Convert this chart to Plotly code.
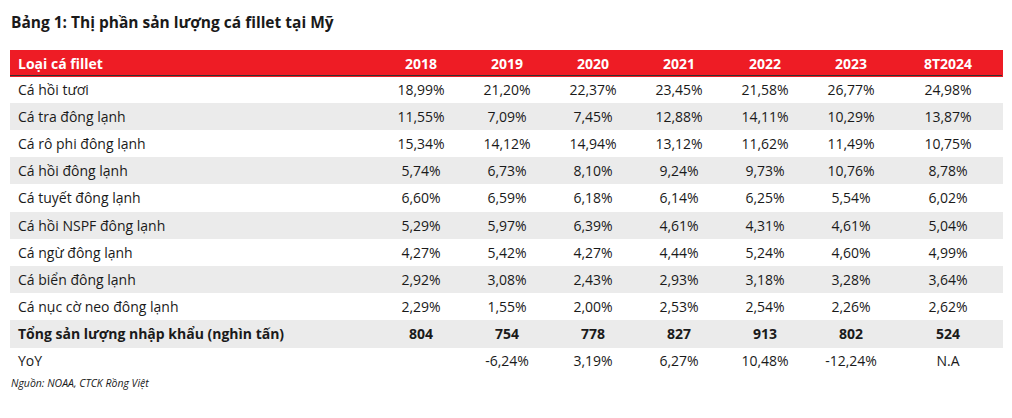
import plotly.graph_objects as go

columns = ["Loại cá fillet", "2018", "2019", "2020", "2021", "2022", "2023", "8T2024"]
categories = ["Cá hồi tươi", "Cá tra đông lạnh", "Cá rô phi đông lạnh", "Cá hồi đông lạnh",
              "Cá tuyết đông lạnh", "Cá hồi NSPF đông lạnh", "Cá ngừ đông lạnh",
              "Cá biển đông lạnh", "Cá nục cờ neo đông lạnh"]
y2018 = ["18,99%", "11,55%", "15,34%", "5,74%", "6,60%", "5,29%", "4,27%", "2,92%", "2,29%"]
y2019 = ["21,20%", "7,09%", "14,12%", "6,73%", "6,59%", "5,97%", "5,42%", "3,08%", "1,55%"]
y2020 = ["22,37%", "7,45%", "14,94%", "8,10%", "6,18%", "6,39%", "4,27%", "2,43%", "2,00%"]
y2021 = ["23,45%", "12,88%", "13,12%", "9,24%", "6,14%", "4,61%", "4,44%", "2,93%", "2,53%"]
y2022 = ["21,58%", "14,11%", "11,62%", "9,73%", "6,25%", "4,31%", "5,24%", "3,18%", "2,54%"]
y2023 = ["26,77%", "10,29%", "11,49%", "10,76%", "5,54%", "4,61%", "4,60%", "3,28%", "2,26%"]
y8t2024 = ["24,98%", "13,87%", "10,75%", "8,78%", "6,02%", "5,04%", "4,99%", "3,64%", "2,62%"]
total_label = "Tổng sản lượng nhập khẩu (nghìn tấn)"
totals = ["804", "754", "778", "827", "913", "802", "524"]
yoy_label = "YoY"
yoy = ["", "-6,24%", "3,19%", "6,27%", "10,48%", "-12,24%", "N.A"]

title = "Bảng 1: Thị phần sản lượng cá fillet tại Mỹ"
source = "Nguồn: NOAA, CTCK Rồng Việt"

year_cols = [y2018, y2019, y2020, y2021, y2022, y2023, y8t2024]
cols = [categories] + year_cols

n = len(categories)
GRAY = "#ebebeb"
fills = [GRAY if r % 2 == 1 else "white" for r in range(n)]

# the page body has an 8px margin, so figure coordinates are offset by 8px
W, H = 1012, 418
FONT = "Open Sans"
RED = "#ee1c25"
TXT = "#1a1a1a"
FS = 14
dom_x0, dom_x1 = 2, 994
head_top = 42
head_h = 26
row_h = 27.2
colw = [368, 86, 86, 86, 86, 86, 86, 108]
aligns = ["left"] + ["center"] * 7
main_end = head_top + head_h + row_h * n
tot_h, yoy_h = 27, 26

main = go.Table(
    columnwidth=colw,
    header=dict(values=columns, fill_color=RED, line=dict(color=RED, width=1),
                font=dict(family=FONT, size=FS, color="white", weight="bold"),
                align=aligns, height=head_h),
    cells=dict(values=cols, fill_color=[fills] * 8, line=dict(color=[fills] * 8, width=1),
               font=dict(family=FONT, size=FS, color=TXT),
               align=aligns, height=row_h),
    domain=dict(x=[dom_x0 / W, dom_x1 / W],
                y=[1 - (main_end + 12) / H, 1 - head_top / H]),
)

bottom = go.Table(
    columnwidth=colw,
    header=dict(values=[total_label] + totals, fill_color=GRAY, line=dict(color=GRAY, width=1),
                font=dict(family=FONT, size=FS, color=TXT, weight="bold"),
                align=aligns, height=tot_h),
    cells=dict(values=[[yoy_label]] + [[v] for v in yoy], fill_color="white",
               line=dict(color="white", width=1),
               font=dict(family=FONT, size=FS, color=TXT),
               align=aligns, height=yoy_h),
    domain=dict(x=[dom_x0 / W, dom_x1 / W], y=[0, 1 - main_end / H]),
)

fig = go.Figure([main, bottom])

line_y = head_top + head_h - 0.5
fig.add_shape(type="line", xref="paper", yref="paper",
              x0=dom_x0 / W, x1=dom_x1 / W, y0=1 - line_y / H, y1=1 - line_y / H,
              line=dict(color="#333333", width=1.2))

fig.add_annotation(text="<b>" + title + "</b>", xref="paper", yref="paper",
                   x=1 / W, y=1 - 14 / H, xanchor="left", yanchor="middle",
                   showarrow=False, font=dict(family=FONT, size=15.5, color=TXT))
fig.add_annotation(text="<i>" + source + "</i>", xref="paper", yref="paper",
                   x=1 / W, y=1 - 375 / H, xanchor="left", yanchor="middle",
                   showarrow=False, font=dict(family=FONT, size=10.5, color=TXT),
                   bgcolor="white")

fig.update_layout(width=W, height=H, margin=dict(l=0, r=0, t=0, b=0),
                  paper_bgcolor="white", plot_bgcolor="white")
fig.write_html("out.html")
